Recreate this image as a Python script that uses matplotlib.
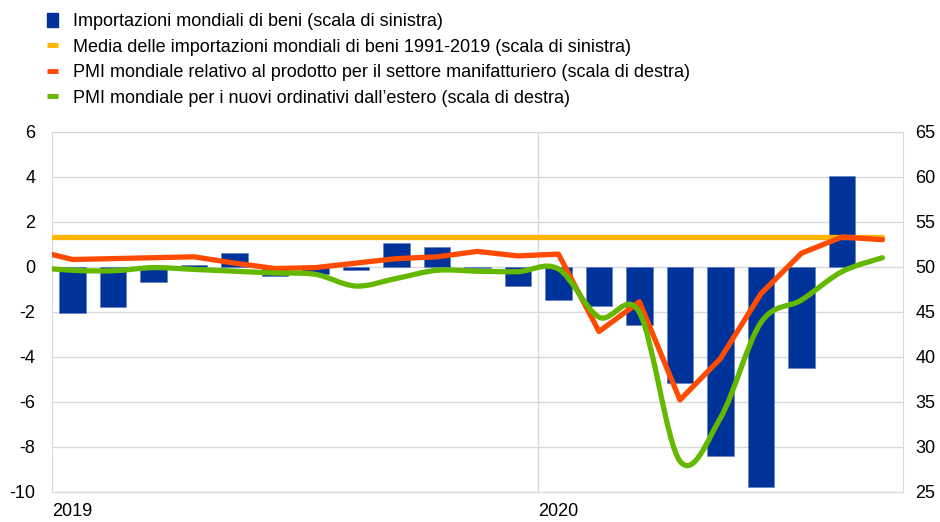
import numpy as np
import matplotlib.pyplot as plt
from matplotlib.path import Path
from matplotlib.patches import PathPatch, Patch
from matplotlib.lines import Line2D

# monthly, Dec 2018 - Sep 2020 (Dec 2018 only feeds the clipped start of the lines)
months = ["2018-12",
          "2019-01", "2019-02", "2019-03", "2019-04", "2019-05", "2019-06",
          "2019-07", "2019-08", "2019-09", "2019-10", "2019-11", "2019-12",
          "2020-01", "2020-02", "2020-03", "2020-04", "2020-05", "2020-06",
          "2020-07", "2020-08", "2020-09"]

# world goods imports, Jan 2019 - Aug 2020 (left scale)
imports = [-2.05, -1.80, -0.69, 0.07, 0.59, -0.40, -0.34, -0.13, 1.04, 0.86,
           -0.04, -0.86, -1.48, -1.73, -2.59, -5.18, -8.40, -9.78, -4.52, 4.04]
avg_imports = 1.33

# PMI manufacturing output and new export orders (right scale)
pmi_output = [51.9, 50.8, 50.9, 51.0, 51.1, 50.4, 49.8, 49.9, 50.4, 50.9, 51.1,
              51.7, 51.2, 51.4, 42.8, 46.1, 35.2, 39.8, 47.0, 51.5, 53.3, 53.0]
pmi_export = [49.95, 49.6, 49.55, 49.9, 49.7, 49.5, 49.3, 49.15, 47.85, 48.7, 49.6,
              49.5, 49.45, 49.75, 44.4, 44.9, 28.4, 33.2, 43.8, 46.3, 49.45, 51.0]

year_labels = ["2019", "2020"]
labels = ["Importazioni mondiali di beni (scala di sinistra)",
          "Media delle importazioni mondiali di beni 1991-2019 (scala di sinistra)",
          "PMI mondiale relativo al prodotto per il settore manifatturiero (scala di destra)",
          "PMI mondiale per i nuovi ordinativi dall\u2019estero (scala di destra)"]

blue = "#003399"
yellow = "#ffb400"
orange = "#ff4b00"
green = "#65b800"
grid = "#d9d9d9"

plt.rcParams['font.family'] = ['Liberation Sans', 'DejaVu Sans']
plt.rcParams['axes.unicode_minus'] = False

x_line = np.arange(len(months)) - 1
x_bar = np.arange(len(imports))

fig = plt.figure(figsize=(9.4, 5.22), dpi=100)
ax = fig.add_axes([0.0556, 0.058, 0.9047, 0.6897])

ax.bar(x_bar, imports, width=0.66, color=blue, edgecolor="#5a7ac0", lw=0.4, zorder=2)
ax.plot([x_line[0], x_line[-1]], [avg_imports, avg_imports], color=yellow, lw=3.8,
        solid_capstyle='round', zorder=3)

ax.set_xlim(x_bar[0] - 0.5, x_line[-1] + 0.5)
ax.set_ylim(-10, 6)
ax.set_yticks(np.arange(-10, 7, 2))
ax.grid(axis='y', color=grid, lw=1, zorder=0)
ax.axvline(11.5, color=grid, lw=1, zorder=0)
for s in ax.spines.values():
    s.set_color(grid)
ax.set_xticks([-0.5, 11.5])
ax.set_xticklabels(year_labels, ha='left')
ax.tick_params(length=0, labelsize=13)
ax.tick_params(axis='y', pad=12)
ax.tick_params(axis='x', pad=8)

ax2 = ax.twinx()
ax2.set_ylim(25, 65)
ax2.set_yticks(np.arange(25, 66, 5))
ax2.tick_params(length=0, labelsize=13, pad=9)
for s in ax2.spines.values():
    s.set_visible(False)

ax2.plot(x_line, pmi_output, color=orange, lw=3.8, solid_capstyle='round', zorder=3)

# smoothed line for export orders (cubic Bezier through the monthly points)
pts = np.column_stack([x_line, pmi_export]).astype(float)
n = len(pts)
verts = [pts[0]]
codes = [Path.MOVETO]
for i in range(n - 1):
    p0 = pts[max(i - 1, 0)]
    p1 = pts[i]
    p2 = pts[i + 1]
    p3 = pts[min(i + 2, n - 1)]
    verts += [p1 + (p2 - p0) / 6, p2 - (p3 - p1) / 6, p2]
    codes += [Path.CURVE4] * 3
ax2.add_patch(PathPatch(Path(verts, codes), fill=False, edgecolor=green, lw=3.8,
                        capstyle='round', joinstyle='round', zorder=4))

handles = [Patch(color=blue),
           Line2D([], [], color=yellow, lw=3.5, solid_capstyle='butt'),
           Line2D([], [], color=orange, lw=3.5, solid_capstyle='butt'),
           Line2D([], [], color=green, lw=3.5, solid_capstyle='butt')]
fig.legend(handles, labels, loc='upper left', bbox_to_anchor=(47 / 940, 1 - 13 / 522),
           frameon=False, handlelength=0.6, handleheight=0.8, handletextpad=0.85,
           labelspacing=0.46, borderpad=0, borderaxespad=0, fontsize=13)

fig.savefig("out.png", dpi=100)
